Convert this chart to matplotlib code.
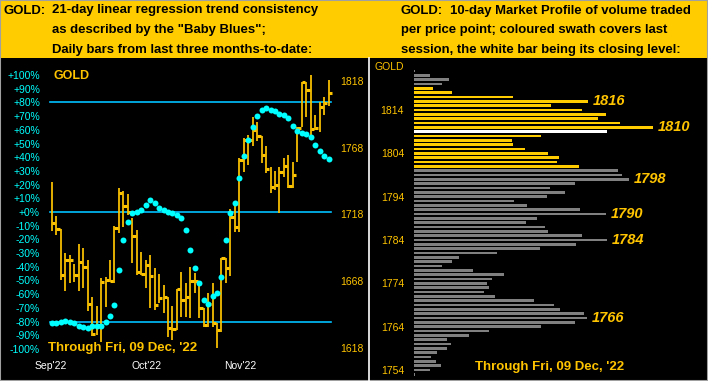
import matplotlib
matplotlib.use("Agg")
import matplotlib.pyplot as plt
from matplotlib.patches import Rectangle
from matplotlib.lines import Line2D
import numpy as np

plt.rcParams['font.family'] = ['Liberation Sans', 'DejaVu Sans']

# daily bars, 13 Sep .. 09 Dec '22 (high / low / close)
highs = [1742.6, 1716.9, 1706.9, 1689.4, 1687.7, 1680.9, 1695.9, 1692.7, 1683.9, 1656.4,
         1649.5, 1670.2, 1671.4, 1683.9, 1709.4, 1737.6, 1735.6, 1733.4, 1715.2, 1706.4,
         1690.0, 1684.0, 1687.7, 1677.7, 1673.4, 1665.2, 1656.4, 1649.5, 1662.0, 1675.2,
         1666.5, 1679.0, 1674.4, 1665.2, 1647.7, 1659.0, 1667.0, 1636.5, 1685.2, 1685.2,
         1721.9, 1726.4, 1760.1, 1775.1, 1777.6, 1791.3, 1787.5, 1776.8, 1769.3, 1753.8,
         1750.6, 1753.8, 1760.1, 1762.6, 1757.6, 1783.8, 1817.5, 1817.5, 1822.5, 1792.5,
         1802.5, 1806.2, 1818.7]
lows = [1705.9, 1702.6, 1668.9, 1660.9, 1666.9, 1667.7, 1660.9, 1662.7, 1645.9, 1627.2,
        1627.7, 1622.7, 1648.9, 1667.7, 1666.5, 1703.9, 1708.4, 1717.6, 1681.4, 1672.7,
        1672.7, 1662.7, 1647.7, 1646.5, 1651.5, 1644.0, 1626.5, 1624.0, 1631.5, 1641.5,
        1641.0, 1640.2, 1659.0, 1640.2, 1634.0, 1633.5, 1634.0, 1617.8, 1630.2, 1666.5,
        1672.0, 1704.7, 1705.1, 1750.1, 1755.1, 1769.3, 1773.3, 1756.4, 1748.9, 1733.9,
        1736.4, 1718.9, 1745.9, 1737.6, 1737.6, 1757.6, 1783.8, 1791.3, 1776.3, 1781.3,
        1780.0, 1792.5, 1799.3]
closes = [1711.9, 1706.9, 1672.7, 1683.9, 1683.9, 1672.7, 1682.2, 1678.9, 1651.0, 1628.5,
          1635.2, 1667.7, 1668.9, 1668.5, 1708.1, 1734.3, 1724.6, 1720.1, 1701.9, 1675.2,
          1673.4, 1680.2, 1672.0, 1650.2, 1655.2, 1656.4, 1633.2, 1632.0, 1662.0, 1654.0,
          1656.4, 1668.4, 1668.2, 1647.7, 1635.2, 1650.7, 1637.0, 1631.5, 1685.2, 1678.2,
          1715.9, 1708.9, 1758.8, 1773.8, 1773.8, 1781.3, 1776.8, 1762.6, 1751.9, 1738.8,
          1740.1, 1750.1, 1754.3, 1739.3, 1747.6, 1782.6, 1817.5, 1811.3, 1781.8, 1783.0,
          1798.7, 1801.3, 1809.2]
# "Baby Blues" trend consistency, percent
baby_blues = [-80.8, -80.8, -80.1, -79.3, -80.1, -80.8, -83.0, -83.7, -84.5, -83.0,
              -83.0, -83.0, -80.1, -75.7, -67.9, -42.1, -20.4, -7.3, -0.9, 0.1,
              1.5, 5.3, 8.9, 6.8, 3.1, 1.5, 0.1, -0.5, -2.0, -4.2,
              -13.1, -27.7, -40.9, -51.6, -64.0, -67.2, -61.3, -58.9, -47.2, -20.4,
              -0.5, 6.8, 25.0, 41.1, 52.6, 62.3, 70.3, 74.5, 76.1, 74.7,
              73.7, 71.8, 70.8, 68.8, 62.8, 59.3, 57.9, 56.9, 55.0, 48.9,
              44.7, 41.1, 38.7]
month_labels = ["Sep'22", "Oct'22", "Nov'22"]
month_pos = [-0.2, 21.1, 42.2]
price_ticks = [1818, 1768, 1718, 1668, 1618]
pct_ticks = list(range(-100, 101, 10))
pct_lines = [80, 0, -80]

# 10-day market profile, $1 per bar, top to bottom
profile_prices = list(range(1823, 1752, -1))
profile_volume = [1, 16, 35, 27.7, 19, 37.7, 98.7, 173.7, 137, 167.7,
                  191.7, 183.7, 205.7, 239, 192.7, 126.7, 97.7, 98.7, 110.7, 133.7,
                  144.7, 142.7, 164.7, 203.7, 207.7, 214.7, 161, 135.7, 150.7, 132.7,
                  99.7, 112.7, 165.7, 191.7, 122.7, 111.7, 130.7, 133.7, 167.7, 192.7,
                  161.7, 125.7, 82.7, 44.7, 37.7, 27.7, 58.7, 89.7, 77.7, 72.7,
                  74.7, 69.7, 80.7, 119.7, 139.7, 145.7, 169.7, 172.7, 160.7, 126.7,
                  74.7, 54.7, 32.7, 36.7, 32.7, 22.7, 16.7, 21.7, 26.7, 15.7, 1]
session_low, session_high, session_close = 1801, 1819, 1809
profile_labels = [1816, 1810, 1798, 1790, 1784, 1766]
profile_ticks = [1814, 1804, 1794, 1784, 1774, 1764, 1754]

W, H = 708, 381
GOLD = '#FFC400'
HEAD = '#FFCC00'
CYAN = '#00FFFF'
LINE = '#00BFFF'


def axes_px(x0, y0, x1, y1):
    return fig.add_axes([x0 / W, 1 - y1 / H, (x1 - x0) / W, (y1 - y0) / H])


fig = plt.figure(figsize=(W / 100, H / 100), dpi=100, facecolor='black')

# header band
fig.add_artist(Rectangle((0, 1 - 58 / H), 1, 58 / H, transform=fig.transFigure,
                         facecolor=HEAD, edgecolor='none'))
hdr = dict(fontsize=9.45, fontweight='bold', color='black', va='center')
fig.text(3.5 / W, 1 - 10.5 / H, "GOLD:", **hdr)
fig.text(51.7 / W, 1 - 10.5 / H, "21-day linear regression trend consistency", **hdr)
fig.text(51.7 / W, 1 - 30 / H, 'as described by the "Baby Blues";', **hdr)
fig.text(51.7 / W, 1 - 49.5 / H, "Daily bars from last three months-to-date:", **hdr)
fig.text(400.7 / W, 1 - 11 / H, "GOLD:", **hdr)
fig.text(450 / W, 1 - 11 / H, "10-day Market Profile of volume traded", **hdr)
fig.text(400.7 / W, 1 - 30 / H, "per price point; coloured swath covers last", **hdr)
fig.text(400.7 / W, 1 - 49.5 / H, "session, the white bar being its closing level:", **hdr)

# ---- left panel: daily bars + Baby Blues ----
ax = axes_px(40, 62, 340, 360)
ax2 = ax.twinx()
idx = np.arange(len(closes))
step = 4.46
ax.set_xlim((40 - 52) / step, (340 - 52) / step)
ax.set_ylim(1818 - (360 - 81) / 1.335, 1818 + (81 - 62) / 1.335)
ax2.set_ylim(100 - (360 - 75) / 1.37, 100 + (75 - 62) / 1.37)
ax.set_facecolor('black')
ax2.patch.set_visible(False)
for a in (ax, ax2):
    for s in a.spines.values():
        s.set_visible(False)

for p in pct_lines:
    ax.plot([-0.4, 62.6], [p, p], color=LINE, lw=1.2, transform=ax2.transData, zorder=1)
ax.vlines(idx, lows, highs, color=GOLD, lw=1.25, zorder=2)
ax.hlines(closes, idx, idx + 0.75, color=GOLD, lw=2.2, zorder=2)
ax2.plot(idx, baby_blues, 'o', color=CYAN, ms=4.3, mec='none', zorder=3)

ax.yaxis.tick_right()
ax.set_yticks(price_ticks)
ax.set_yticklabels([str(t) for t in price_ticks])
ax.tick_params(axis='y', length=0, pad=0, labelsize=7.5, labelcolor=GOLD)
ax2.yaxis.tick_left()
ax2.set_yticks(pct_ticks)
ax2.set_yticklabels([f"{t:+d}%" if t != 0 else "+0%" for t in pct_ticks])
ax2.tick_params(axis='y', length=0, pad=0, labelsize=7.5, labelcolor=CYAN)
ax.set_xticks(month_pos)
ax.set_xticklabels(month_labels)
ax.tick_params(axis='x', length=0, pad=1, labelsize=7.5, labelcolor='white')

fig.text(54 / W, 1 - 76 / H, "GOLD", fontsize=9, fontweight='bold', color=GOLD, va='center')
fig.text(47.7 / W, 1 - 348 / H, "Through Fri, 09 Dec, '22", fontsize=9.5,
         fontweight='bold', color=GOLD, va='center')

# ---- right panel: market profile ----
fig.add_artist(Line2D([369 / W, 369 / W], [0, 1 - 58 / H], transform=fig.transFigure,
                      color='white', lw=1.2))
ax3 = axes_px(414, 60, 706, 378)
ax3.set_facecolor('black')
for s in ax3.spines.values():
    s.set_visible(False)
colors = []
for p in profile_prices:
    if p == session_close:
        colors.append('white')
    elif session_low <= p <= session_high:
        colors.append(HEAD)
    else:
        colors.append('#808080')
ax3.barh(profile_prices, profile_volume, height=0.55, color=colors, left=0)
ax3.set_xlim(0, 292)
ax3.set_ylim(1814 - (378 - 110) / 4.333, 1814 + (110 - 60) / 4.333)
ax3.set_xticks([])
ax3.set_yticks(profile_ticks)
ax3.set_yticklabels([str(t) for t in profile_ticks])
ax3.tick_params(axis='y', length=0, pad=7.2, labelsize=7.5, labelcolor=GOLD)
for lab in profile_labels:
    v = profile_volume[profile_prices.index(lab)]
    ax3.text(v + 5, lab, str(lab), fontsize=10.5, fontweight='bold', fontstyle='italic',
             color=GOLD, va='center', ha='left')

fig.text(404 / W, 1 - 67 / H, "GOLD", fontsize=7.5, color=GOLD, va='center', ha='right')
fig.text(475 / W, 1 - 367 / H, "Through Fri, 09 Dec, '22", fontsize=9.5,
         fontweight='bold', color=GOLD, va='center')

fig.add_artist(Rectangle((0, 0), 1, 1, transform=fig.transFigure, fill=False,
                         edgecolor='#A0A0A0', lw=1.5))

fig.savefig('out.png', dpi=100, facecolor='black')
